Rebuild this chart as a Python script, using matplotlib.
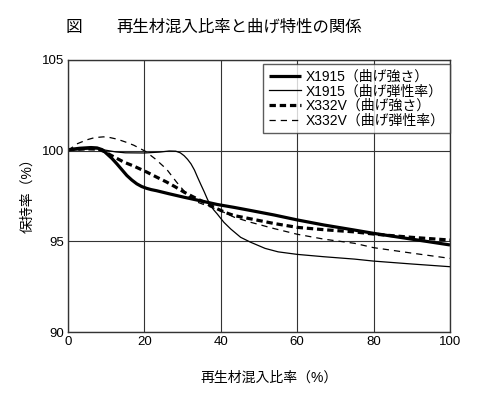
import matplotlib
matplotlib.use("Agg")
import matplotlib.pyplot as plt

plt.rcParams['font.family'] = ['Liberation Sans', 'Noto Sans CJK JP', 'DejaVu Sans']

# X1915 bending strength (thick solid)
x_s1 = [0, 3, 6, 7.6, 9, 10.2, 11.5, 12.8, 14.1, 15.4, 16.7, 18, 19.3, 20.6, 21.8, 23.2,
        26.5, 30.4, 35, 39.1, 43.5, 47.8, 54, 60, 67, 75, 80, 90, 100]
y_s1 = [100.05, 100.13, 100.17, 100.15, 100.05, 99.82, 99.57, 99.27, 98.95, 98.63, 98.38,
        98.17, 98.02, 97.92, 97.85, 97.79, 97.62, 97.43, 97.22, 97.03, 96.87, 96.7, 96.45,
        96.18, 95.9, 95.62, 95.44, 95.12, 94.8]

# X1915 flexural modulus (thin solid)
x_m1 = [0, 5, 8, 10, 12.5, 15, 20, 24, 26.5, 28.2, 29.4, 30.4, 31.3, 32.2, 33.1, 33.9, 34.8,
        35.7, 36.5, 37.3, 38.2, 39.1, 40.8, 42.6, 45.2, 47.8, 51.6, 55, 60, 67, 75, 80, 90, 100]
y_m1 = [100.0, 100.08, 100.1, 100.02, 99.93, 99.88, 99.87, 99.92, 99.98, 99.97, 99.88, 99.72,
        99.52, 99.27, 98.93, 98.54, 98.12, 97.71, 97.32, 96.97, 96.72, 96.5, 96.05, 95.68,
        95.22, 94.95, 94.61, 94.42, 94.28, 94.15, 94.02, 93.91, 93.75, 93.6]

# X332V bending strength (thick dashed)
x_s2 = [0, 5, 8, 9.5, 11.1, 12.9, 14.6, 17.2, 20.6, 23.2, 25.8, 28.1, 30.4, 32.5, 34.7, 36.9,
        39.1, 41.3, 43.5, 47.8, 54, 60, 67, 75, 80, 90, 100]
y_s2 = [100.05, 100.1, 100.08, 99.95, 99.76, 99.56, 99.37, 99.15, 98.82, 98.54, 98.27,
        98.0, 97.71, 97.48, 97.25, 97.02, 96.79, 96.58, 96.42, 96.24, 95.98, 95.77, 95.64,
        95.52, 95.4, 95.22, 95.07]

# X332V flexural modulus (thin dashed)
x_m2 = [0, 2.3, 5, 7, 9.3, 11, 12.9, 15, 17.2, 20.2, 22.8, 25.8, 28.4, 30.2, 31.9, 34, 36.3,
        39.8, 43.5, 47.8, 54, 60, 67, 75, 80, 90, 100]
y_m2 = [100.0, 100.37, 100.6, 100.72, 100.76, 100.72, 100.63, 100.48, 100.3, 99.97, 99.55,
        98.98, 98.27, 97.82, 97.43, 97.15, 96.97, 96.7, 96.33, 96.05, 95.7, 95.39, 95.12,
        94.89, 94.65, 94.35, 94.06]

labels = ['X1915（曲げ強さ）', 'X1915（曲げ弾性率）', 'X332V（曲げ強さ）', 'X332V（曲げ弾性率）']
x_ticks = [0, 20, 40, 60, 80, 100]
y_ticks = [90, 95, 100, 105]

fig = plt.figure(figsize=(5, 3.97), dpi=100)
ax = fig.add_axes([0.136, 0.1637, 0.764, 0.6853])

ax.plot(x_s1, y_s1, color='black', lw=2.3, label=labels[0], solid_capstyle='butt',
        solid_joinstyle='round')
ax.plot(x_m1, y_m1, color='black', lw=0.9, label=labels[1], solid_joinstyle='round')
ax.plot(x_s2, y_s2, color='black', lw=2.3, ls=(0, (2.0, 1.2)), label=labels[2])
ax.plot(x_m2, y_m2, color='black', lw=0.9, ls=(0, (5, 4)), label=labels[3])

ax.set_xlim(0, 100)
ax.set_ylim(90, 105)
ax.set_xticks(x_ticks)
ax.set_yticks(y_ticks)
ax.tick_params(length=0, labelsize=9.5, pad=3)
ax.grid(True, color='#333333', lw=0.8)
for s in ax.spines.values():
    s.set_color('#333333')
    s.set_linewidth(1.0)

leg = ax.legend(loc='upper right', bbox_to_anchor=(1.0, 0.985), borderaxespad=0,
                fontsize=10, frameon=True, fancybox=False, edgecolor='#333333',
                handlelength=2.3, handletextpad=0.35, labelspacing=0.05, borderpad=0.4)
leg.get_frame().set_linewidth(1.0)

fig.text(0.148, 0.931, '図', fontsize=12, ha='center', va='center')
fig.text(0.232, 0.931, '再生材混入比率と曲げ特性の関係', fontsize=11.8, ha='left', va='center')
fig.text(0.054, 0.515, '保持率（%）', fontsize=10, rotation=90, ha='center', va='center')
fig.text(0.538, 0.048, '再生材混入比率（%）', fontsize=10, ha='center', va='center')

fig.savefig('out.png', dpi=100)
